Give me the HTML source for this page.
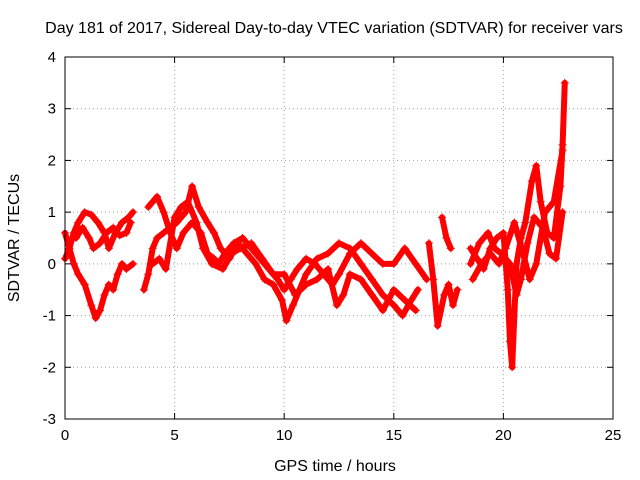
<!DOCTYPE html>
<html><head><meta charset="utf-8"><style>
body{margin:0;background:#fff}
svg{display:block;font-family:"Liberation Sans",sans-serif}
</style></head><body>
<svg id="chart" width="640" height="480" xmlns="http://www.w3.org/2000/svg">
<rect width="640" height="480" fill="#fff"/>
<text x="334" y="33" font-size="16" text-anchor="middle">Day 181 of 2017, Sidereal Day-to-day VTEC variation (SDTVAR) for receiver vars</text>
<text x="335" y="471" font-size="16" text-anchor="middle">GPS time / hours</text>
<text transform="translate(19,238) rotate(-90)" font-size="16" text-anchor="middle">SDTVAR / TECUs</text>
<g id="grid"></g><g id="marks"></g><g id="axes"></g>
</svg>
<script>
const xTicks=[0,5,10,15,20,25];
const yTicks=[-3,-2,-1,0,1,2,3,4];
const trackA=[[0,0.6],[0.2,0.3],[0.4,0.6],[0.6,0.8],[0.9,1.0],[1.2,0.95],[1.5,0.8],[1.8,0.6],[2.0,0.3],[2.3,0.6],[2.6,0.8],[2.9,0.9],[3.1,1.0]];
const trackB=[[0,0.1],[0.2,0.3],[0.4,0.0],[0.6,-0.2],[0.9,-0.4],[1.2,-0.8],[1.4,-1.05],[1.6,-0.9],[1.8,-0.6],[2.0,-0.4],[2.2,-0.5],[2.4,-0.2],[2.6,0.0],[2.8,-0.1],[3.1,0.0]];
const trackC=[[0.5,0.5],[0.8,0.7],[1.1,0.5],[1.3,0.3],[1.6,0.4],[1.9,0.6],[2.2,0.7],[2.5,0.55],[2.8,0.6],[3.0,0.8]];
const trackD=[[3.6,-0.5],[3.8,-0.2],[4.0,0.3],[4.2,0.5],[4.5,0.6],[4.8,0.7],[5.1,0.8],[5.5,1.0],[5.8,1.5],[6.1,1.1],[6.5,0.8],[6.8,0.6],[7.1,0.3],[7.5,0.1],[7.9,0.4],[8.3,0.2],[8.7,0.0],[9.1,-0.3],[9.5,-0.4],[9.9,-0.7],[10.1,-1.1],[10.4,-0.8],[10.7,-0.5],[11,-0.2],[11.5,0.1],[12,0.2],[12.5,0.4],[13,0.3],[13.5,0.0],[14,-0.3],[14.5,-0.6],[15,-0.8],[15.4,-1.0],[15.8,-0.7],[16.1,-0.5]];
const trackE=[[3.8,1.1],[4.2,1.3],[4.5,1.0],[4.8,0.6],[5.1,0.3],[5.4,0.6],[5.8,0.8],[6.2,0.6],[6.5,0.2],[6.8,0.1],[7.0,0.0],[7.3,0.2],[7.7,0.4],[8.1,0.5],[8.5,0.3],[8.9,0.1],[9.3,-0.1],[9.7,-0.3],[10.0,-0.5],[10.3,-0.3],[10.6,-0.1],[11.0,0.1],[11.4,0.0],[11.8,-0.2],[12.2,-0.4],[12.5,-0.2],[13,0.2],[13.5,0.4],[14,0.2],[14.5,0.0],[15,0.0],[15.5,0.3],[16,0.0],[16.5,-0.3]];
const trackF=[[4,0.0],[4.3,0.1],[4.6,-0.1],[5,0.9],[5.3,1.1],[5.6,1.2],[6.0,0.8],[6.3,0.3],[6.7,0.0],[7.2,-0.1],[7.6,0.2],[8,0.3],[8.5,0.4],[9,0.1],[9.5,-0.2],[10,-0.2],[10.5,-0.6],[11,-0.4],[11.5,-0.3],[12,-0.1],[12.4,-0.8],[12.7,-0.6],[13,-0.2],[13.5,-0.3],[14,-0.6],[14.5,-0.9],[15,-0.5],[15.5,-0.7],[16,-0.9]];
const trackG=[[16.6,0.4],[16.8,-0.3],[17.0,-1.2],[17.3,-0.6],[17.5,-0.4],[17.7,-0.8],[17.9,-0.5]];
const trackG2=[[17.2,0.9],[17.4,0.5],[17.6,0.3]];
const trackH=[[18.5,0.3],[18.8,0.1],[19.1,-0.1],[19.4,0.3],[19.7,0.5],[20.0,0.6],[20.2,-0.5],[20.3,-1.5],[20.4,-2.0],[20.6,0.0],[20.8,0.5],[21.0,0.8],[21.3,1.6],[21.5,1.9],[21.7,1.2],[22.0,0.6],[22.3,0.5],[22.6,1.5],[22.7,2.3],[22.8,3.5]];
const trackI=[[18.5,0.0],[18.9,0.4],[19.3,0.6],[19.6,0.3],[19.9,0.2],[20.3,0.0],[20.6,-0.6],[20.8,-0.3],[21.1,0.4],[21.4,0.9],[21.8,0.7],[22.1,0.2],[22.4,0.1],[22.7,1.0]];
const trackJ=[[18.6,-0.3],[19,0.0],[19.4,0.2],[19.8,0.0],[20.1,0.3],[20.5,0.8],[20.9,0.2],[21.2,-0.3],[21.5,0.0],[21.9,1.0],[22.3,1.2],[22.7,2.2]];
const tracks=[trackA,trackB,trackC,trackD,trackE,trackF,trackG,trackG2,trackH,trackI,trackJ];

const X0=65,X1=613,Y0=419,Y1=57;
const sx=v=>X0+(v-0)/(25-0)*(X1-X0);
const sy=v=>Y0-(v+3)/(7)*(Y0-Y1);
const NS="http://www.w3.org/2000/svg";
function mk(t,a,p){const e=document.createElementNS(NS,t);for(const k in a)e.setAttribute(k,a[k]);p.appendChild(e);return e;}
const grid=document.getElementById('grid'),axes=document.getElementById('axes'),marks=document.getElementById('marks');
xTicks.forEach(t=>{
  const x=sx(t);
  if(t>0&&t<25){const g=mk('line',{x1:x,y1:Y0,x2:x,y2:Y1,stroke:'#a0a0a0','stroke-dasharray':'1,3'},grid);
  
  }
  mk('line',{x1:x,y1:Y0,x2:x,y2:Y0-6,stroke:'#000'},axes);
  mk('line',{x1:x,y1:Y1,x2:x,y2:Y1+6,stroke:'#000'},axes);
  const l=mk('text',{x:x,y:Y0+21,'font-size':15,'text-anchor':'middle'},axes);l.textContent=t;
  
  
});
yTicks.forEach(t=>{
  const y=sy(t);
  if(t>-3&&t<4){const g=mk('line',{x1:X0,y1:y,x2:X1,y2:y,stroke:'#a0a0a0','stroke-dasharray':'1,3'},grid);
  
  }
  mk('line',{x1:X0,y1:y,x2:X0+6,y2:y,stroke:'#000'},axes);
  mk('line',{x1:X1,y1:y,x2:X1-6,y2:y,stroke:'#000'},axes);
  const l=mk('text',{x:X0-9,y:y+5,'font-size':15,'text-anchor':'end'},axes);l.textContent=t;
  
  
});
const frame=mk('rect',{x:X0,y:Y1,width:X1-X0,height:Y0-Y1,fill:'none',stroke:'#000'},axes);


tracks.forEach(tr=>{
  const pl=mk('polyline',{points:tr.map(p=>sx(p[0])+','+sy(p[1])).join(' '),fill:'none',stroke:'#f00','stroke-width':6,'stroke-linejoin':'round','stroke-linecap':'round'},marks);
  
  
  tr.forEach(p=>{
    const x=sx(p[0]),y=sy(p[1]);
    const m=mk('path',{d:`M${x-4},${y}H${x+4}M${x},${y-4}V${y+4}`,stroke:'#f00','stroke-width':1},marks);
    
    
  });
});
</script>
</body></html>
